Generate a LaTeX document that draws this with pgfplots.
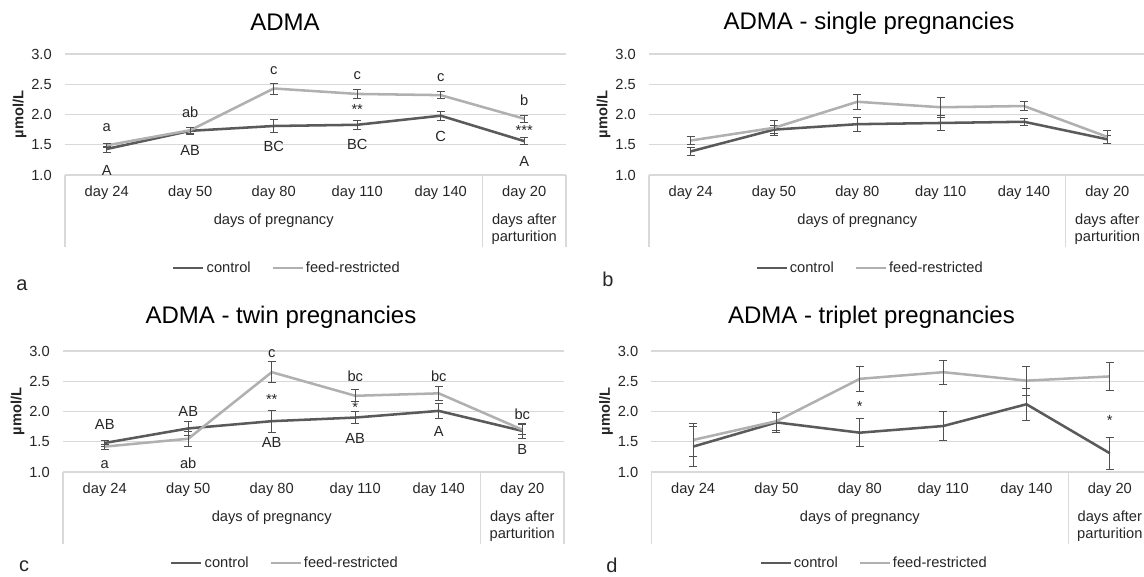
\documentclass[border=0pt]{standalone}
\usepackage{fontspec}
\setmainfont{Liberation Sans}
\usepackage{pgfplots}
\pgfplotsset{compat=1.18}
\definecolor{ctrl}{HTML}{5A5A5A}
\definecolor{feed}{HTML}{B0B0B0}
\definecolor{gridc}{HTML}{D9D9D9}
\definecolor{errc}{HTML}{505050}
\definecolor{txt}{HTML}{262626}
\newcommand\lab{\fontsize{11}{13}\selectfont}
\newcommand\ttl{\fontsize{18}{21}\selectfont}
\pgfplotsset{
  panel/.style={
    scale only axis, clip=false,
    xmin=-0.5, xmax=5.5, ymin=1, ymax=3,
    ytick={1,1.5,2,2.5,3},
    yticklabel={\pgfmathprintnumber[fixed,fixed zerofill,precision=1]{\tick}},
    /pgf/number format/assume math mode=true,
    ymajorgrids, grid style={draw=gridc, line width=0.9pt},
    axis line style={draw=none}, major tick length=0pt,
    xtick={0,1,2,3,4,5},
    xticklabels={day 24,day 50,day 80,day 110,day 140,day 20},
    xticklabel style={anchor=center, yshift=-13.5pt, font=\lab, text=txt},
    yticklabel style={anchor=east, inner sep=0pt, xshift=-9.75pt, font=\lab, text=txt},
    legend style={draw=none, fill=none, anchor=center, legend columns=2,
      font=\lab, text=txt, inner sep=0pt, nodes={inner sep=1.5pt},
      /tikz/every even column/.append style={column sep=14pt}},
    legend image code/.code={\draw[##1, line width=1.9pt] (0pt,0pt) -- (22.5pt,0pt);},
    every axis plot/.append style={line width=1.9pt, no markers},
    error bars/error bar style={line width=0.6pt, color=errc},
    error bars/error mark options={rotate=90, mark size=3pt, line width=0.6pt, color=errc},
  },
  cats/.style={
    extra description/.code={
      \draw[gridc, line width=0.9pt] (axis cs:-0.5,1) -- ++(0,-54pt);
      \draw[gridc, line width=0.9pt] (axis cs:4.5,1) -- ++(0,-54pt);
      \draw[gridc, line width=0.9pt] (axis cs:5.5,1) -- ++(0,-54pt);
      \node[font=\lab, text=txt] at ([yshift=-34.5pt]axis cs:2,1) {days of pregnancy};
      \node[font=\lab, text=txt] at ([yshift=-34.5pt]axis cs:5,1) {days after};
      \node[font=\lab, text=txt] at ([yshift=-47.25pt]axis cs:5,1) {parturition};
      \node[font=\bfseries\lab, text=txt, rotate=90] at ([xshift=-34pt]axis description cs:0,0.5) {µmol/L};
    }
  }
}
\begin{document}
\begin{tikzpicture}
\useasboundingbox (0,0) rectangle (858pt,432pt);
\clip (0,0) rectangle (858pt,432pt);

% ---------- panel a ----------
\begin{axis}[panel, cats, at={(48.75pt,300.75pt)}, anchor=south west,
  width=375.75pt, height=90.75pt,
  legend style={at={(0.443,-0.769)}}]
\addplot[ctrl, error bars/.cd, y dir=both, y explicit] coordinates {
 (0,1.43) +- (0,0.05) (1,1.73) +- (0,0.06) (2,1.81) +- (0,0.11)
 (3,1.83) +- (0,0.07) (4,1.98) +- (0,0.07) (5,1.56) +- (0,0.06)};
\addlegendentry{control}
\addplot[feed, error bars/.cd, y dir=both, y explicit] coordinates {
 (0,1.49) +- (0,0.04) (1,1.74) +- (0,0.05) (2,2.43) +- (0,0.09)
 (3,2.34) +- (0,0.07) (4,2.32) +- (0,0.06) (5,1.93) +- (0,0.06)};
\addlegendentry{feed-restricted}
\node[font=\ttl] at ([yshift=24pt]axis description cs:0.439,1) {ADMA};
\begin{scope}[every node/.style={font=\lab, text=txt}]
\node at (axis cs:0,1.78) {a};
\node at (axis cs:1,2.03) {ab};
\node at (axis cs:2,2.72) {c};
\node at (axis cs:3,2.64) {c};
\node at (axis cs:4,2.61) {c};
\node at (axis cs:5,2.24) {b};
\node at (axis cs:3,2.08) {**};
\node at (axis cs:5,1.74) {***};
\node at (axis cs:0,1.07) {A};
\node at (axis cs:1,1.40) {AB};
\node at (axis cs:2,1.47) {BC};
\node at (axis cs:3,1.51) {BC};
\node at (axis cs:4,1.64) {C};
\node at (axis cs:5,1.22) {A};
\end{scope}
\end{axis}

% ---------- panel b ----------
\begin{axis}[panel, cats, at={(486.75pt,300.75pt)}, anchor=south west,
  width=375pt, height=90.75pt,
  legend style={at={(0.442,-0.769)}}]
\addplot[ctrl, error bars/.cd, y dir=both, y explicit] coordinates {
 (0,1.39) +- (0,0.07) (1,1.75) +- (0,0.07) (2,1.84) +- (0,0.12)
 (3,1.86) +- (0,0.13) (4,1.88) +- (0,0.06) (5,1.59) +- (0,0.06)};
\addlegendentry{control}
\addplot[feed, error bars/.cd, y dir=both, y explicit] coordinates {
 (0,1.57) +- (0,0.07) (1,1.78) +- (0,0.12) (2,2.21) +- (0,0.13)
 (3,2.12) +- (0,0.16) (4,2.14) +- (0,0.08) (5,1.63) +- (0,0.11)};
\addlegendentry{feed-restricted}
\node[font=\ttl] at ([yshift=23.25pt]axis description cs:0.44,1) {ADMA - single pregnancies};
\end{axis}

% ---------- panel c ----------
\begin{axis}[panel, cats, at={(47.25pt,78pt)}, anchor=south west,
  width=375.75pt, height=90.75pt,
  legend style={at={(0.443,-0.752)}}]
\addplot[ctrl, error bars/.cd, y dir=both, y explicit] coordinates {
 (0,1.48) +- (0,0.05) (1,1.72) +- (0,0.12) (2,1.84) +- (0,0.18)
 (3,1.90) +- (0,0.10) (4,2.01) +- (0,0.13) (5,1.68) +- (0,0.12)};
\addlegendentry{control}
\addplot[feed, error bars/.cd, y dir=both, y explicit] coordinates {
 (0,1.42) +- (0,0.04) (1,1.55) +- (0,0.12) (2,2.65) +- (0,0.17)
 (3,2.26) +- (0,0.10) (4,2.30) +- (0,0.12) (5,1.70) +- (0,0.08)};
\addlegendentry{feed-restricted}
\node[font=\ttl] at ([yshift=25.5pt]axis description cs:0.435,1) {ADMA - twin pregnancies};
\begin{scope}[every node/.style={font=\lab, text=txt}]
\node at (axis cs:0,1.78) {AB};
\node at (axis cs:0,1.13) {a};
\node at (axis cs:1,2.00) {AB};
\node at (axis cs:1,1.14) {ab};
\node at (axis cs:2,2.95) {c};
\node at (axis cs:2,2.20) {**};
\node at (axis cs:2,1.49) {AB};
\node at (axis cs:3,2.58) {bc};
\node at (axis cs:3,2.06) {*};
\node at (axis cs:3,1.56) {AB};
\node at (axis cs:4,2.59) {bc};
\node at (axis cs:4,1.67) {A};
\node at (axis cs:5,1.96) {bc};
\node at (axis cs:5,1.37) {B};
\end{scope}
\end{axis}

% ---------- panel d ----------
\begin{axis}[panel, cats, at={(488.6pt,78pt)}, anchor=south west,
  width=375pt, height=90.75pt,
  legend style={at={(0.445,-0.752)}}]
\addplot[ctrl, error bars/.cd, y dir=both, y explicit] coordinates {
 (0,1.42) +- (0,0.33) (1,1.82) +- (0,0.17) (2,1.65) +- (0,0.23)
 (3,1.76) +- (0,0.24) (4,2.12) +- (0,0.27) (5,1.31) +- (0,0.27)};
\addlegendentry{control}
\addplot[feed, error bars/.cd, y dir=both, y explicit] coordinates {
 (0,1.53) +- (0,0.27) (1,1.84) +- (0,0.15) (2,2.54) +- (0,0.20)
 (3,2.65) +- (0,0.20) (4,2.51) +- (0,0.24) (5,2.58) +- (0,0.23)};
\addlegendentry{feed-restricted}
\node[font=\ttl] at ([yshift=25.5pt]axis description cs:0.44,1) {ADMA - triplet pregnancies};
\begin{scope}[every node/.style={font=\lab, text=txt}]
\node at (axis cs:2,2.08) {*};
\node at (axis cs:5,1.86) {*};
\end{scope}
\end{axis}

% panel letters
\node[font=\fontsize{15}{17}\selectfont, text=txt] at (16.5pt,218.25pt) {a};
\node[font=\fontsize{15}{17}\selectfont, text=txt] at (456pt,222.75pt) {b};
\node[font=\fontsize{15}{17}\selectfont, text=txt] at (18pt,7.5pt) {c};
\node[font=\fontsize{15}{17}\selectfont, text=txt] at (459pt,8.25pt) {d};
\end{tikzpicture}
\end{document}
